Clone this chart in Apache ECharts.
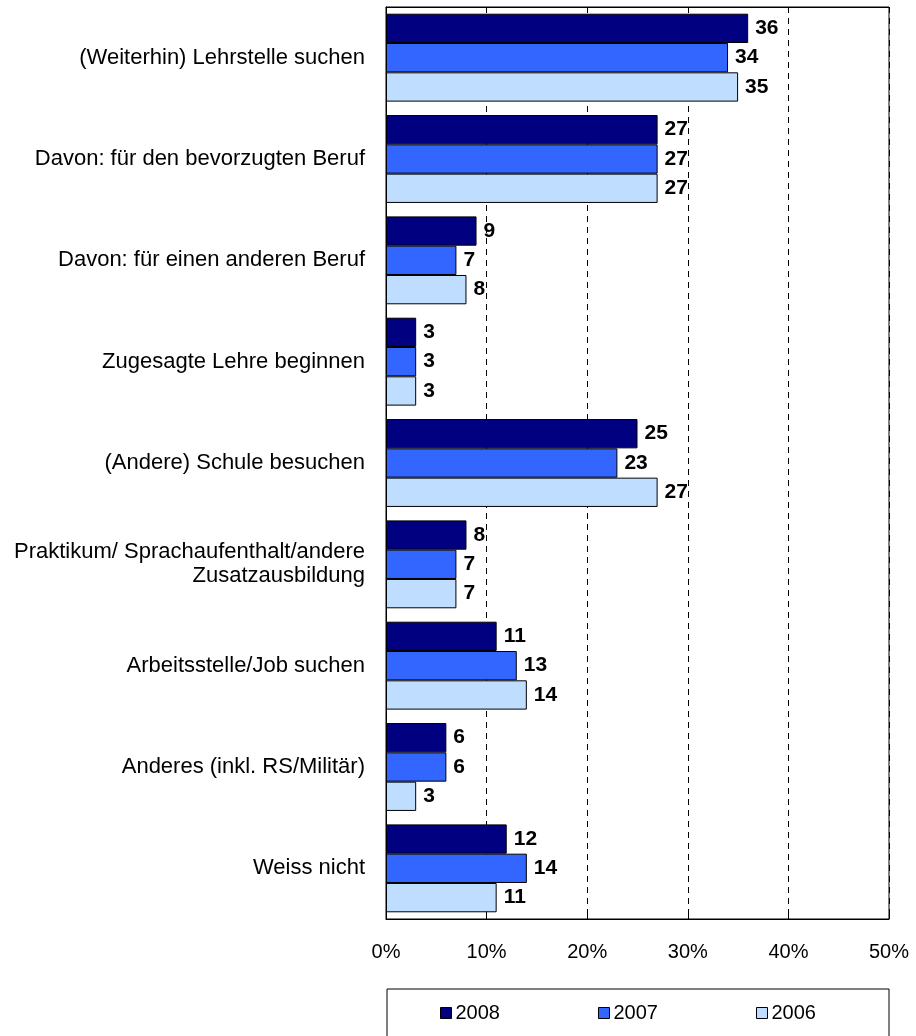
<!DOCTYPE html>
<html><head><meta charset="utf-8">
<script src="https://cdn.jsdelivr.net/npm/echarts@6/dist/echarts.min.js"></script>
<style>html,body{margin:0;padding:0;background:#fff}#c{width:916px;height:1036px}</style>
</head><body><div id="c"></div>
<script>
const categories = [
  "(Weiterhin) Lehrstelle suchen",
  "Davon: für den bevorzugten Beruf",
  "Davon: für einen anderen Beruf",
  "Zugesagte Lehre beginnen",
  "(Andere) Schule besuchen",
  "Praktikum/ Sprachaufenthalt/andere\nZusatzausbildung",
  "Arbeitsstelle/Job suchen",
  "Anderes (inkl. RS/Militär)",
  "Weiss nicht"
];
const seriesNames = ["2008", "2007", "2006"];
const v2008 = [36, 27, 9, 3, 25, 8, 11, 6, 12];
const v2007 = [34, 27, 7, 3, 23, 7, 13, 6, 14];
const v2006 = [35, 27, 8, 3, 27, 7, 14, 3, 11];
const colors = ["#000080", "#3366FF", "#BFDDFF"];
const values = [v2008, v2007, v2006];

const font = "'Liberation Sans', Arial, sans-serif";
const chart = echarts.init(document.getElementById('c'), null, {renderer: 'canvas'});
chart.setOption({
  animation: false,
  textStyle: {fontFamily: font},
  grid: {left: 386, right: 27, top: 7, bottom: 117, show: true, borderColor: '#000', borderWidth: 1, containLabel: false},
  xAxis: [{
    type: 'value', min: 0, max: 50, interval: 10, position: 'bottom',
    axisLine: {show: true, lineStyle: {color: '#000'}},
    axisTick: {show: true, inside: true, length: 5, lineStyle: {color: '#000'}},
    axisLabel: {formatter: '{value}%', color: '#000', fontSize: 20, fontFamily: font, margin: 23},
    splitLine: {show: true, lineStyle: {color: '#000', type: [6, 5], width: 1}}
  }, {
    type: 'value', min: 0, max: 50, interval: 10, position: 'top',
    axisLine: {show: true, lineStyle: {color: '#000'}},
    axisTick: {show: true, inside: true, length: 5, lineStyle: {color: '#000'}},
    axisLabel: {show: false}, splitLine: {show: false}
  }],
  yAxis: {
    type: 'category', data: categories, inverse: true,
    axisLine: {show: true, lineStyle: {color: '#000'}},
    axisTick: {show: false},
    axisLabel: {color: '#000', fontSize: 22, fontFamily: font, margin: 21, align: 'right', lineHeight: 24}
  },
  legend: {
    data: seriesNames, top: 1003, left: 440, padding: 0, itemWidth: 11, itemHeight: 11, itemGap: 98,
    icon: 'rect',
    itemStyle: {borderColor: '#000', borderWidth: 1},
    textStyle: {fontSize: 20, color: '#000', fontFamily: font, padding: [0, 0, 0, -1]}
  },
  graphic: [{
    type: 'rect',
    shape: {x: 387, y: 989, width: 502, height: 60},
    style: {fill: 'none', stroke: '#000', lineWidth: 1}, silent: true, z: -1
  }],
  series: seriesNames.map((n, i) => ({
    name: n, type: 'bar', data: values[i], barWidth: 29.3, barGap: '0%',
    itemStyle: {color: colors[i], borderColor: '#000', borderWidth: 1},
    label: {show: true, position: 'right', distance: 7, color: '#000', fontWeight: 'bold', fontSize: 21, fontFamily: font}
  }))
});
</script></body></html>
